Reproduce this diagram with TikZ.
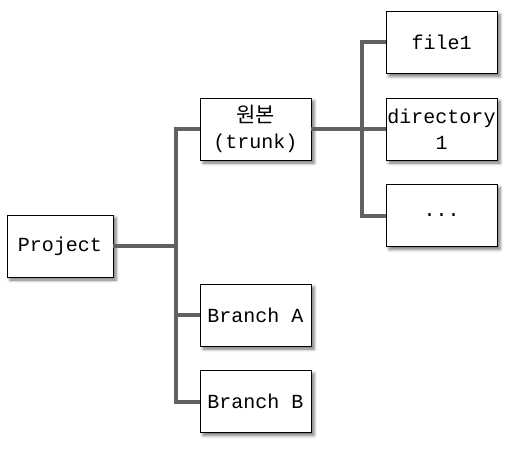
\documentclass[tikz,border=0pt]{standalone}
\usepackage{fontspec}
\setmonofont{Liberation Mono}
\newfontfamily\cjk{Noto Sans CJK KR}
\usetikzlibrary{shadows.blur}
\tikzset{
  box/.style={draw=black, line width=0.8pt, fill=white, minimum width=111pt, minimum height=62pt,
    inner sep=0pt, align=center, font=\ttfamily\fontsize{20}{26}\selectfont,
    blur shadow={shadow xshift=3pt, shadow yshift=-3pt, shadow blur radius=3pt, shadow opacity=55}},
  conn/.style={draw=black!62, line width=4pt}
}
\begin{document}
\begin{tikzpicture}[x=1pt,y=-1pt]
\useasboundingbox (0,0) rectangle (513,449);
\node[box, minimum width=106pt] (proj) at (60,246) {Project};
\node[box] (trunk) at (255.5,129) {{\cjk\fontsize{21}{26}\selectfont 원본}\\(trunk)};
\node[box] (ba) at (255.5,315) {Branch A};
\node[box] (bb) at (255.5,401.5) {Branch B};
\node[box] (f1) at (441.5,42.5) {file1};
\node[box] (dir) at (441.5,129) {directory\\1};
\node[box] (dots) at (441.5,215.5) {...};
\coordinate (j1) at (176,246);
\coordinate (j2) at (362,129);
\draw[conn] (trunk.west) -| (j1) |- (bb.west);
\draw[conn] (proj.east) -- (j1);
\draw[conn] (ba.west) -- (ba.west -| j1);
\draw[conn] (f1.west) -| (j2) |- (dots.west);
\draw[conn] (trunk.east) -- (dir.west);
\end{tikzpicture}
\end{document}
